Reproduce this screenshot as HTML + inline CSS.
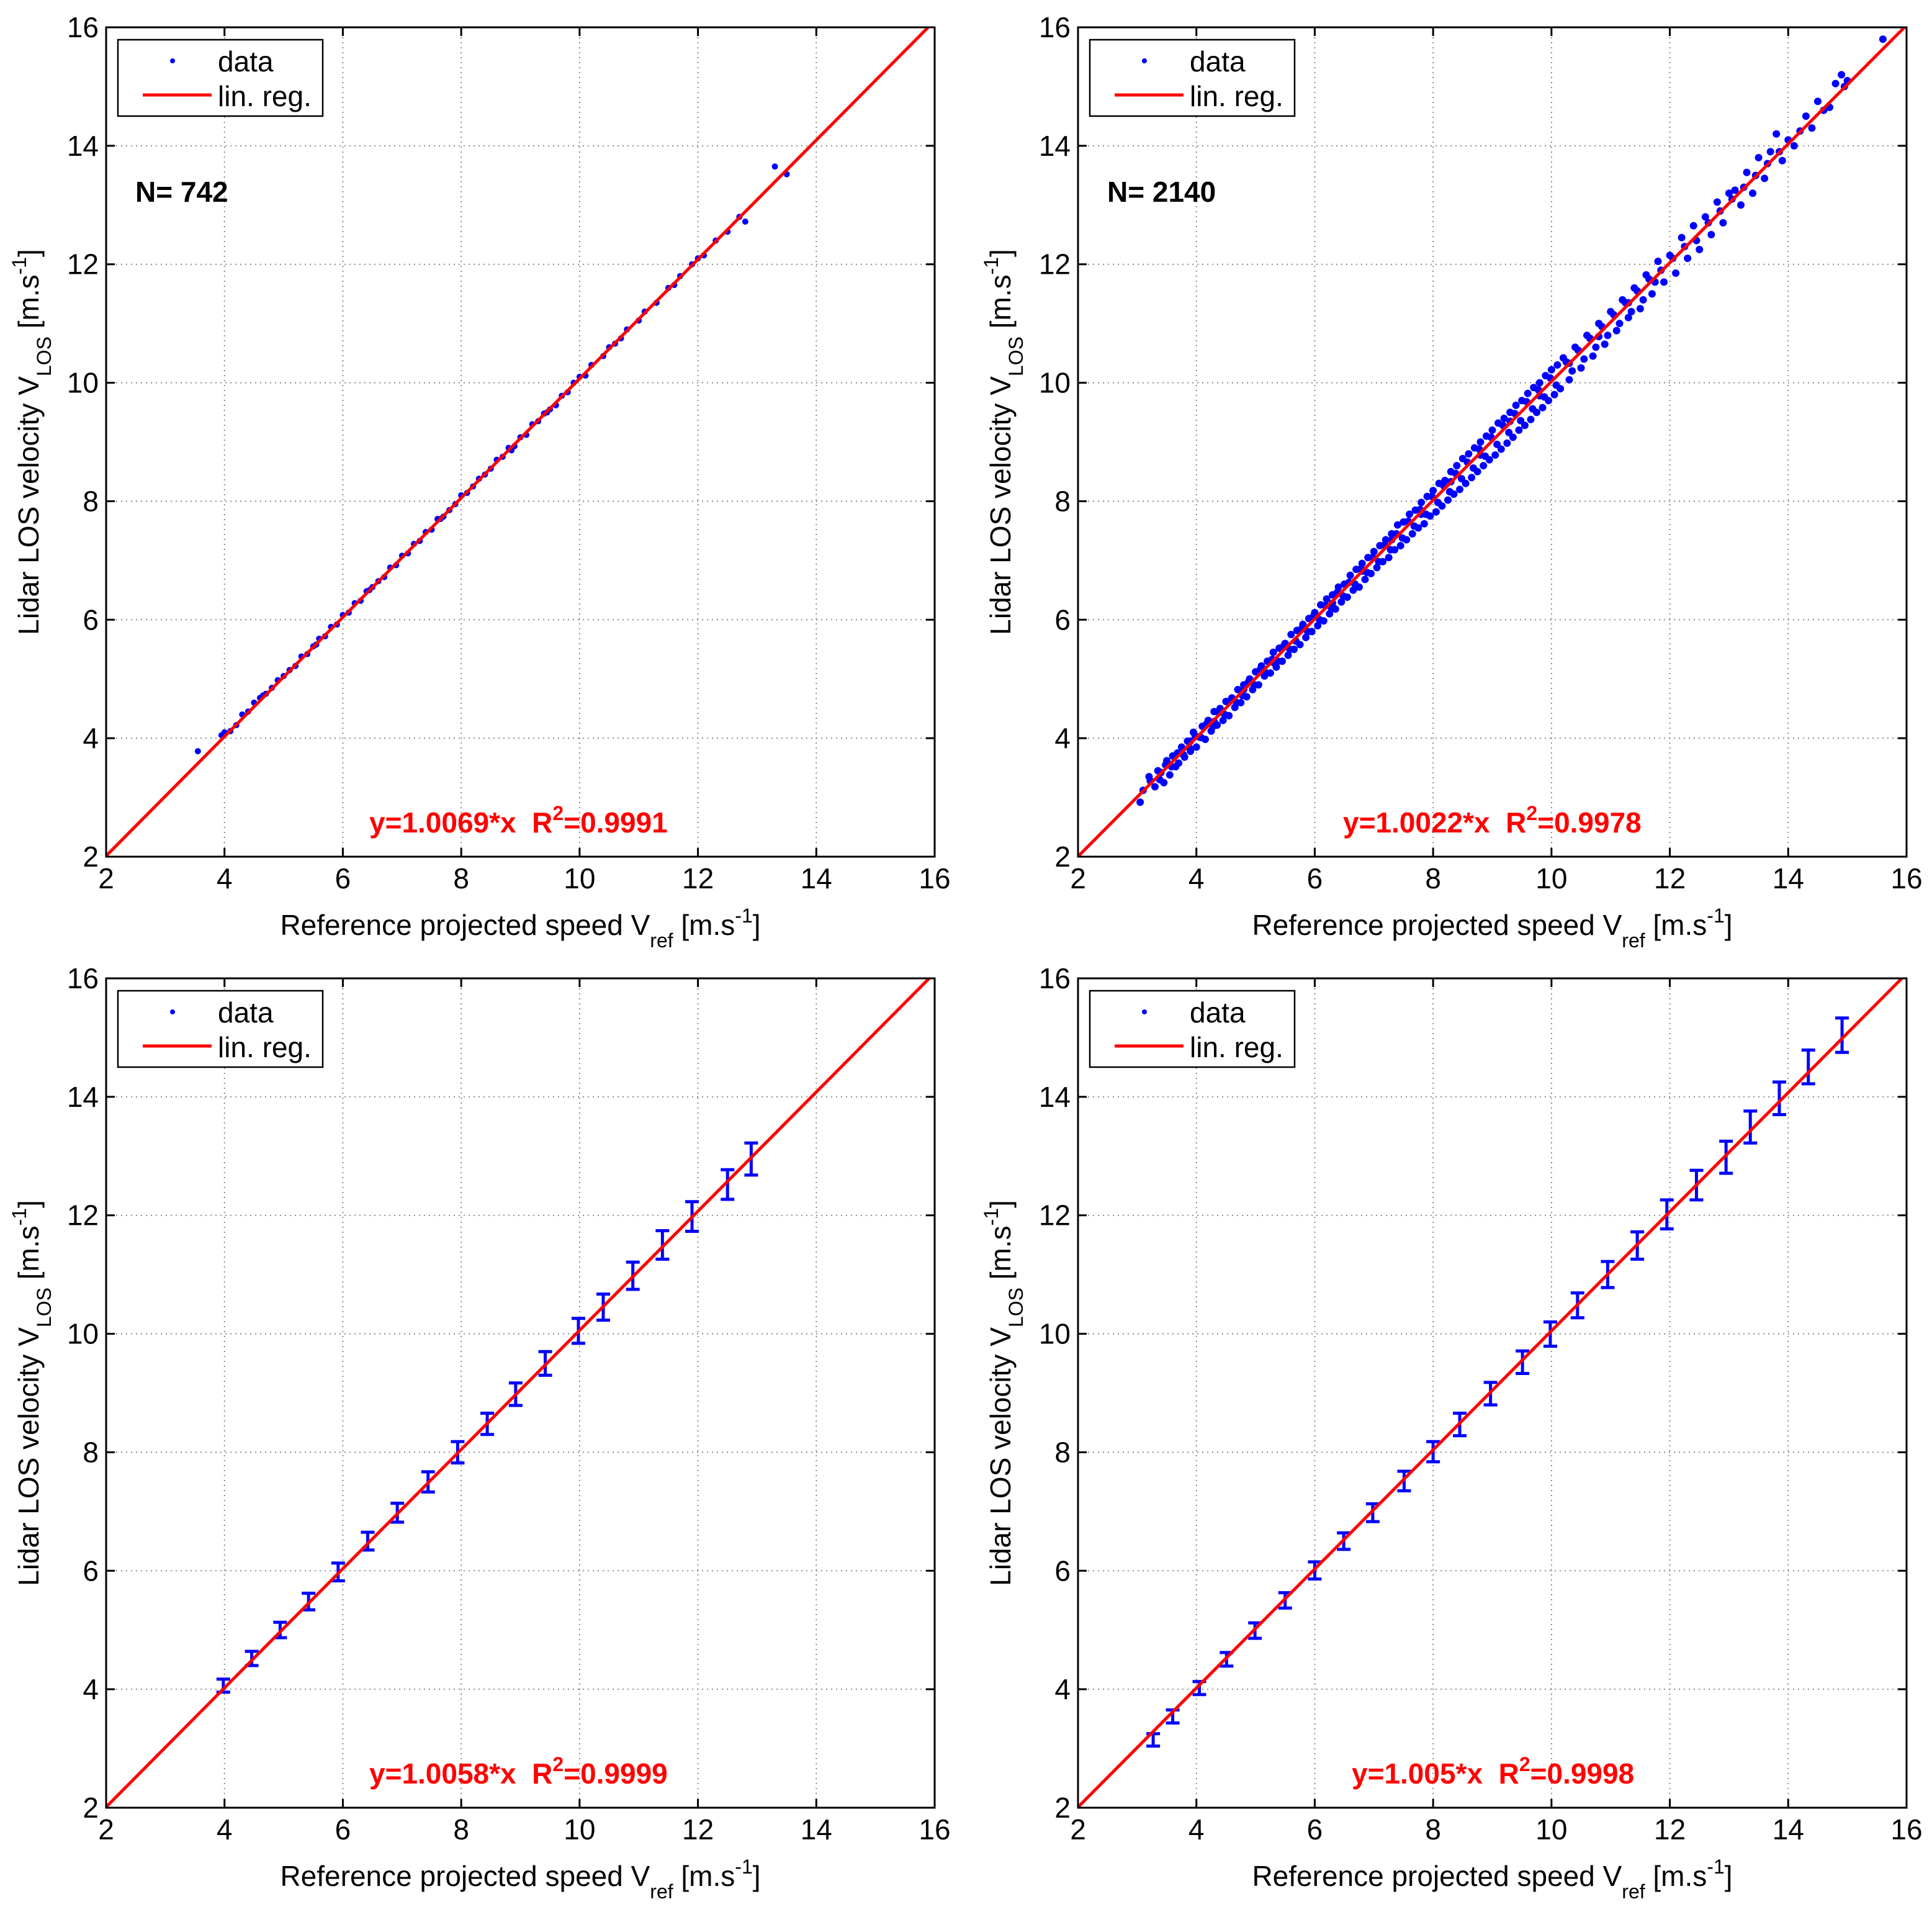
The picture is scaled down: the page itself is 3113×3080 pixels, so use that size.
<!DOCTYPE html>
<html><head><meta charset="utf-8"><style>
html,body{margin:0;padding:0;background:#fff;}
svg{display:block;font-family:"Liberation Sans",Arial,sans-serif;}
</style></head><body>
<svg id="fig" width="3113" height="3080" viewBox="0 0 3113 3080" xmlns="http://www.w3.org/2000/svg"></svg>
<script>
// ---- data ----
const xTicks = [2,4,6,8,10,12,14,16];
const yTicks = [2,4,6,8,10,12,14,16];
const slopes = [1.0069, 1.0022, 1.0058, 1.005];
const eqTexts = [["y=1.0069*x\u00a0\u00a0R","=0.9991"],["y=1.0022*x\u00a0\u00a0R","=0.9978"],["y=1.0058*x\u00a0\u00a0R","=0.9999"],["y=1.005*x\u00a0\u00a0R","=0.9998"]];
const nLabels = ["N= 742","N= 2140",null,null];
const scatterA = [3.55,3.78, 3.95,4.05, 4.0,4.1, 4.1,4.12, 4.2,4.22, 4.3,4.4, 4.4,4.45, 4.5,4.6, 4.6,4.68, 4.7,4.75, 4.8,4.85, 4.9,4.98, 5.0,5.05, 5.1,5.15, 5.2,5.22, 5.3,5.38, 5.4,5.42, 5.5,5.55, 5.6,5.68, 5.7,5.72, 5.8,5.88, 5.9,5.92, 6.0,6.08, 6.1,6.12, 6.2,6.28, 6.3,6.32, 6.4,6.48, 6.5,6.55, 6.6,6.65, 6.7,6.72, 6.8,6.88, 6.9,6.92, 7.0,7.08, 7.1,7.12, 7.2,7.28, 7.3,7.33, 7.4,7.48, 7.5,7.52, 7.6,7.7, 7.7,7.74, 7.8,7.85, 7.9,7.95, 8.0,8.1, 8.1,8.14, 8.2,8.25, 8.3,8.38, 8.4,8.45, 8.5,8.55, 8.6,8.7, 8.7,8.75, 8.8,8.9, 8.9,8.93, 9.0,9.08, 9.1,9.12, 9.2,9.3, 9.3,9.35, 9.4,9.48, 9.5,9.55, 9.6,9.62, 9.7,9.78, 9.8,9.84, 9.9,10.0, 10.0,10.1, 10.1,10.12, 10.2,10.3, 10.4,10.45, 10.5,10.6, 10.7,10.75, 10.8,10.9, 11.0,11.05, 11.1,11.2, 11.3,11.35, 11.5,11.6, 11.6,11.65, 11.7,11.8, 11.9,12.0, 12.0,12.1, 12.1,12.15, 12.3,12.4, 12.5,12.55, 12.7,12.8, 12.8,12.72, 13.3,13.65, 13.5,13.52, 4.65,4.72, 5.55,5.58, 6.45,6.5, 7.65,7.7, 8.85,8.86, 9.45,9.5, 10.6,10.66];
const scatterB = [3.05,2.92, 3.1,3.12, 3.2,3.35, 3.3,3.18, 3.35,3.45, 3.45,3.25, 3.5,3.62, 3.55,3.38, 3.6,3.7, 3.65,3.52, 3.7,3.58, 3.75,3.85, 3.8,3.68, 3.85,3.95, 3.9,3.78, 3.95,4.1, 4.0,3.85, 4.05,4.02, 4.1,4.2, 4.15,3.98, 4.2,4.3, 4.25,4.12, 4.3,4.45, 4.35,4.22, 4.4,4.5, 4.45,4.3, 4.5,4.62, 4.55,4.38, 4.6,4.68, 4.65,4.52, 4.7,4.82, 4.75,4.6, 4.8,4.9, 4.85,4.7, 4.9,5.0, 4.95,4.82, 5.0,5.12, 5.05,4.9, 5.1,5.22, 5.15,5.05, 5.2,5.3, 5.25,5.1, 5.3,5.45, 5.35,5.2, 5.4,5.52, 5.45,5.3, 5.5,5.6, 5.55,5.4, 5.6,5.75, 5.65,5.5, 5.7,5.82, 5.75,5.58, 5.8,5.92, 5.85,5.7, 5.9,6.02, 5.95,5.8, 6.0,6.12, 6.05,5.9, 6.1,6.25, 6.15,5.98, 6.2,6.35, 6.25,6.1, 6.3,6.42, 6.35,6.18, 6.4,6.55, 6.45,6.3, 6.5,6.6, 6.55,6.38, 6.6,6.75, 6.65,6.5, 6.7,6.85, 6.75,6.55, 6.8,6.95, 6.85,6.68, 6.9,7.05, 6.95,6.78, 7.0,7.15, 7.05,6.88, 7.1,7.25, 7.15,6.98, 7.2,7.35, 7.25,7.05, 7.3,7.45, 7.35,7.18, 7.4,7.6, 7.45,7.25, 7.5,7.65, 7.55,7.35, 7.6,7.78, 7.65,7.45, 7.7,7.85, 7.75,7.55, 7.8,7.98, 7.85,7.62, 7.9,8.08, 7.95,7.75, 8.0,8.18, 8.05,7.82, 8.1,8.3, 8.15,7.92, 8.2,8.35, 8.25,8.02, 8.3,8.5, 8.35,8.12, 8.4,8.6, 8.45,8.2, 8.5,8.72, 8.55,8.3, 8.6,8.8, 8.65,8.4, 8.7,8.9, 8.75,8.5, 8.8,9.0, 8.85,8.6, 8.9,9.1, 8.95,8.7, 9.0,9.2, 9.05,8.78, 9.1,9.32, 9.15,8.88, 9.2,9.4, 9.25,8.98, 9.3,9.5, 9.35,9.08, 9.4,9.62, 9.45,9.2, 9.5,9.7, 9.55,9.28, 9.6,9.82, 9.65,9.38, 9.7,9.92, 9.75,9.5, 9.8,10.0, 9.85,9.58, 9.9,10.12, 9.95,9.7, 10.0,10.22, 10.05,9.8, 10.1,10.3, 10.15,9.9, 10.2,10.42, 10.3,10.05, 10.4,10.6, 10.5,10.25, 10.6,10.8, 10.7,10.45, 10.8,11.0, 10.9,10.65, 11.0,11.2, 11.1,10.88, 11.2,11.4, 11.3,11.1, 11.4,11.6, 11.5,11.25, 11.6,11.82, 11.7,11.5, 11.8,12.05, 11.9,11.7, 12.0,12.15, 12.1,11.85, 12.2,12.45, 12.3,12.1, 12.4,12.65, 12.5,12.25, 12.6,12.8, 12.7,12.5, 12.8,13.05, 12.9,12.7, 13.0,13.2, 13.1,13.25, 13.2,13.0, 13.3,13.55, 13.4,13.2, 13.5,13.8, 13.6,13.45, 13.7,13.9, 13.8,14.2, 13.9,13.75, 14.0,14.1, 14.1,14.0, 14.3,14.5, 14.4,14.3, 14.5,14.75, 14.7,14.65, 14.8,15.05, 14.9,15.2, 15.0,15.1, 15.6,15.8, 3.4,3.42, 3.9,3.95, 4.3,4.28, 4.8,4.82, 5.3,5.28, 5.8,5.85, 6.3,6.28, 6.8,6.82, 7.3,7.35, 7.8,7.78, 8.3,8.33, 8.8,8.78, 9.3,9.35, 9.8,9.78, 10.3,10.33, 10.8,10.78, 11.3,11.35,
 3.22,3.28, 3.38,3.3, 3.48,3.55, 3.58,3.52, 3.68,3.75, 3.78,3.72, 3.88,3.84, 3.98,4.04, 4.08,4.01, 4.18,4.25, 4.28,4.2, 4.38,4.43, 4.48,4.4, 4.58,4.64, 4.68,4.6, 4.78,4.72, 4.88,4.95, 4.98,4.9, 5.08,5.16, 5.18,5.1, 5.28,5.33, 5.38,5.3, 5.48,5.56, 5.58,5.5, 5.68,5.64, 5.78,5.85, 5.88,5.8, 5.98,6.06, 6.08,6.0, 6.18,6.24, 6.28,6.2, 6.38,6.46, 6.48,6.4, 6.58,6.63, 6.68,6.6, 6.78,6.86, 6.88,6.8, 6.98,7.05, 7.08,6.98, 7.18,7.26, 7.28,7.18, 7.38,7.45, 7.48,7.38, 7.58,7.66, 7.68,7.58, 7.78,7.86, 7.88,7.78, 7.98,8.08, 8.08,7.98, 8.18,8.26, 8.28,8.16, 8.38,8.47, 8.48,8.38, 8.58,8.66, 8.68,8.56, 8.78,8.88, 8.88,8.76, 8.98,9.08, 9.08,8.96, 9.18,9.28, 9.28,9.16, 9.38,9.48, 9.48,9.36, 9.58,9.68, 9.68,9.56, 9.78,9.88, 9.88,9.76, 9.98,10.08, 10.08,9.96, 10.25,10.35, 10.35,10.2, 10.45,10.55, 10.55,10.4, 10.65,10.75, 10.75,10.6, 10.85,10.95, 10.95,10.8, 11.05,11.15, 11.15,11.0, 11.25,11.35, 11.35,11.2, 11.45,11.55, 11.55,11.4, 11.65,11.75, 11.75,11.7, 11.85,11.9, 12.05,12.1, 12.25,12.3, 12.45,12.4, 12.65,12.7, 12.85,12.9, 13.05,13.1, 13.25,13.3, 13.45,13.5, 13.65,13.7, 13.85,13.9, 14.2,14.25, 14.6,14.6, 14.95,15.0];
const errXC = [3.98,4.46,4.94,5.42,5.92,6.42,6.92,7.44,7.94,8.44,8.92,9.42,9.98,10.4,10.9,11.4,11.9,12.5,12.9];
const errYC = [4.06,4.52,5.0,5.48,5.98,6.5,6.98,7.5,8.0,8.48,8.98,9.5,10.05,10.45,10.98,11.5,11.98,12.52,12.95];
const errC = [0.11,0.12,0.13,0.14,0.15,0.15,0.16,0.17,0.18,0.18,0.19,0.2,0.21,0.22,0.23,0.24,0.25,0.25,0.27];
const errXD = [3.27,3.6,4.05,4.51,4.99,5.5,6.0,6.49,6.98,7.51,8.0,8.45,8.97,9.51,9.98,10.44,10.95,11.45,11.95,12.45,12.95,13.36,13.85,14.34,14.91];
const errLoD = [3.04,3.43,3.91,4.39,4.86,5.37,5.86,6.36,6.83,7.35,7.84,8.28,8.8,9.33,9.79,10.27,10.78,11.26,11.77,12.26,12.71,13.22,13.7,14.22,14.75];
const errHiD = [3.25,3.65,4.13,4.62,5.12,5.63,6.15,6.64,7.13,7.68,8.18,8.66,9.18,9.71,10.2,10.69,11.22,11.72,12.26,12.76,13.25,13.76,14.25,14.79,15.33];

// ---- layout ----
const NS = "http://www.w3.org/2000/svg";
const svg = document.getElementById('fig');
const panels = [{l:171,t:44},{l:1737,t:44},{l:171,t:1576},{l:1737,t:1576}];
const W = 1335, H = 1336, XMIN = 2, XMAX = 16;
const eqX = [424, 427, 424, 441];
const FS = 46, SFS = 32;
function el(tag, attrs, parent){const e=document.createElementNS(NS,tag);for(const k in attrs)e.setAttribute(k,attrs[k]);(parent||svg).appendChild(e);return e;}

panels.forEach((p, i) => {
  const sx = v => p.l + (v - XMIN) / (XMAX - XMIN) * W;
  const sy = v => p.t + H - (v - XMIN) / (XMAX - XMIN) * H;
  const g = el('g', {});
  
  
  const grid = el('g', {stroke:'#808080','stroke-width':1.8,'stroke-dasharray':'2 6'}, g);
  
  
  xTicks.slice(1, -1).forEach(v => el('line', {x1:sx(v),x2:sx(v),y1:p.t,y2:p.t+H}, grid));
  yTicks.slice(1, -1).forEach(v => el('line', {y1:sy(v),y2:sy(v),x1:p.l,x2:p.l+W}, grid));
  const dg = el('g', {}, g);
  
  
  if (i < 2) {
    const arr = i === 0 ? scatterA : scatterB;
    for (let k = 0; k < arr.length; k += 2) {
      const c = el('circle', {cx:sx(arr[k]), cy:sy(arr[k+1]), r:i===0?5:6, fill:'#0000ff'}, dg);
      
      
    }
  } else {
    const xs = i === 2 ? errXC : errXD;
    xs.forEach((x, k) => {
      const lo = i === 2 ? errYC[k] - errC[k] : errLoD[k];
      const hi = i === 2 ? errYC[k] + errC[k] : errHiD[k];
      const eb = el('g', {stroke:'#0000ff','stroke-width':5}, dg);
      
      
      el('line', {x1:sx(x),x2:sx(x),y1:sy(lo),y2:sy(hi)}, eb);
      el('line', {x1:sx(x)-11,x2:sx(x)+11,y1:sy(lo),y2:sy(lo)}, eb);
      el('line', {x1:sx(x)-11,x2:sx(x)+11,y1:sy(hi),y2:sy(hi)}, eb);
    });
  }
  const xEnd = Math.min(XMAX, XMAX / slopes[i]);
  const rl = el('line', {x1:sx(XMIN), y1:sy(XMIN*slopes[i]), x2:sx(xEnd), y2:sy(xEnd*slopes[i]), stroke:'#ff0000','stroke-width':5}, g);
  
  
  const ax = el('rect', {x:p.l,y:p.t,width:W,height:H,fill:'none',stroke:'#000','stroke-width':3}, g);
  
  
  const tk = el('g', {stroke:'#000','stroke-width':3}, g);
  xTicks.forEach(v => {el('line',{x1:sx(v),x2:sx(v),y1:p.t+H,y2:p.t+H-14},tk);el('line',{x1:sx(v),x2:sx(v),y1:p.t,y2:p.t+14},tk);});
  yTicks.forEach(v => {el('line',{y1:sy(v),y2:sy(v),x1:p.l,x2:p.l+14},tk);el('line',{y1:sy(v),y2:sy(v),x1:p.l+W,x2:p.l+W-14},tk);});
  xTicks.forEach(v => {
    const t = el('text', {x:sx(v), y:p.t+H+51, 'font-size':FS, 'text-anchor':'middle'}, g);
    t.textContent = v;
    
    
  });
  yTicks.forEach(v => {
    const t = el('text', {x:p.l-12, y:sy(v)+16, 'font-size':FS, 'text-anchor':'end'}, g);
    t.textContent = v;
    
    
  });
  const xl = el('text', {x:p.l+W/2, y:p.t+H+126, 'font-size':FS, 'text-anchor':'middle'}, g);
  
  
  xl.innerHTML = 'Reference projected speed V<tspan font-size="'+SFS+'" dy="20">ref</tspan><tspan dy="-20">\u00a0[m.s</tspan><tspan font-size="'+SFS+'" dy="-20">-1</tspan><tspan dy="20">]</tspan>';
  const yx = p.l - 109, yy = p.t + H/2;
  const yl = el('text', {x:yx, y:yy, 'font-size':FS, 'text-anchor':'middle', transform:`rotate(-90 ${yx} ${yy})`}, g);
  
  
  yl.innerHTML = 'Lidar LOS velocity V<tspan font-size="'+SFS+'" dy="20">LOS</tspan><tspan dy="-20">\u00a0[m.s</tspan><tspan font-size="'+SFS+'" dy="-20">-1</tspan><tspan dy="20">]</tspan>';
  const lg = el('g', {}, g);
  
  
  el('rect', {x:p.l+19,y:p.t+20,width:330,height:123,fill:'#fff',stroke:'#000','stroke-width':2.5}, lg);
  el('circle', {cx:p.l+107, cy:p.t+54, r:4, fill:'#0000ff'}, lg);
  el('line', {x1:p.l+59, x2:p.l+170, y1:p.t+109, y2:p.t+109, stroke:'#ff0000','stroke-width':5}, lg);
  const l1 = el('text', {x:p.l+180, y:p.t+71, 'font-size':FS}, lg); l1.textContent = 'data';
  
  
  const l2 = el('text', {x:p.l+180, y:p.t+127, 'font-size':FS}, lg); l2.textContent = 'lin. reg.';
  
  
  if (nLabels[i]) {
    const n = el('text', {x:p.l+47, y:p.t+281, 'font-size':FS, 'font-weight':'bold'}, g);
    n.textContent = nLabels[i];
    
    
  }
  const eq = el('text', {x:p.l+eqX[i], y:p.t+1297, 'font-size':FS, 'font-weight':'bold', fill:'#ff0000'}, g);
  
  
  eq.innerHTML = eqTexts[i][0] + '<tspan font-size="'+SFS+'" dy="-20">2</tspan><tspan dy="20">' + eqTexts[i][1] + '</tspan>';
});
</script>
</body></html>
